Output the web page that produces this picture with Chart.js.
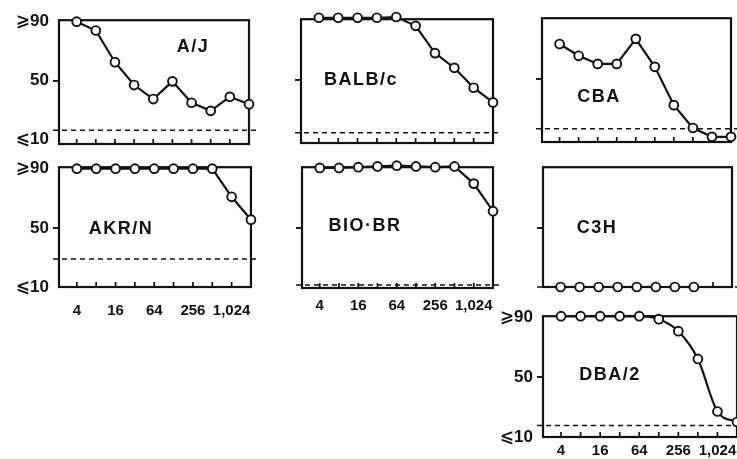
<!DOCTYPE html>
<html>
<head>
<meta charset="utf-8">
<script src="https://cdn.jsdelivr.net/npm/chart.js@4.4.1/dist/chart.umd.min.js"></script>
<style>
  html, body { margin: 0; padding: 0; background: #fff; width: 737px; height: 459px; overflow: hidden; }
  canvas { position: absolute; }
</style>
</head>
<body>
<script>
// dilutions (reciprocal), one point per twofold step
const dilutions = [4, 8, 16, 32, 64, 128, 256, 512, 1024, 2048];
const tickDilutions = [4, 8, 16, 32, 64, 128, 256, 512, 1024];
const xTickValues = [4, 16, 64, 256, 1024];
const xTickLabels = ['4', '16', '64', '256', '1,024'];
const yTickValues = [10, 50, 90];
const yTickLabels = ['⩽10', '50', '⩾90'];

const strainNames = ['A/J', 'BALB/c', 'CBA', 'AKR/N', 'BIO·BR', 'C3H', 'DBA/2'];

// percent values
const ajValues = [90, 84, 62.5, 47, 37.5, 49.5, 35, 29.5, 39, 34];
const balbcValues = [92, 92, 92, 92, 92.5, 86.5, 68, 58, 44.5, 34.5];
const cbaValues = [73.5, 65.5, 60, 60, 77, 58, 32, 16.5, 10.5, 10.5];
const akrnValues = [90, 90, 90, 90, 90, 90, 90, 90, 71, 55.5];
const bioBrValues = [90.5, 90.5, 91, 91.5, 92, 91.5, 91, 91.5, 80, 61.5];
const c3hValues = [10, 10, 10, 10, 10, 10, 10, 10];
const dba2Values = [90.5, 90.5, 90.5, 90.5, 90.5, 88.5, 80.5, 62, 27, 20];
const seriesValues = [ajValues, balbcValues, cbaValues, akrnValues, bioBrValues, c3hValues, dba2Values];

// dashed reference level per panel
const cutoffs = [16.3, 13.9, 16, 29, 12, 10, 17.7];

// layout: frame box on the page [left, top, right, bottom], y range, name offset
const layout = [
    { frame: [59, 18, 249, 144], yRange: [7, 91], nameAt: [134, 27], yLabels: true, xLabels: false, xPad: 14 },
    { frame: [301, 17, 493, 143], yRange: [7, 91], nameAt: [60, 61], yLabels: false, xLabels: false, xPad: 14 },
    { frame: [542, 16, 731, 142], yRange: [7, 91], nameAt: [57, 79], yLabels: false, xLabels: false, xPad: 14 },
    { frame: [59, 165, 251, 287], yRange: [10, 91], nameAt: [62, 62], yLabels: true, xLabels: true, xPad: 15 },
    { frame: [302, 165, 493, 288], yRange: [10, 91], nameAt: [63, 59], yLabels: false, xLabels: true, xPad: 9 },
    { frame: [543, 165, 732, 287], yRange: [10, 91], nameAt: [54, 61], yLabels: false, xLabels: false, xPad: 14 },
    { frame: [543, 314, 737, 437], yRange: [10, 90.5], nameAt: [67, 59], yLabels: true, xLabels: true, xPad: 5, smooth: true },
];

const ink = '#111';
const AXIS_W = 60;
const AXIS_H = 34;
const PAD_T = 12;
const PAD_R = 16;
const X_MIN = 2.11;

const panelDecor = {
    id: 'panelDecor',
    beforeDatasetsDraw(chart, args, opts) {
        const { ctx, chartArea: a, scales: { x, y } } = chart;
        ctx.save();
        ctx.strokeStyle = ink;
        ctx.lineWidth = 2.2;
        ctx.strokeRect(a.left, a.top, a.right - a.left, a.bottom - a.top);

        // inward tick marks along the bottom
        ctx.lineWidth = 1.7;
        ctx.beginPath();
        tickDilutions.forEach(v => {
            const px = x.getPixelForValue(v);
            ctx.moveTo(px, a.bottom);
            ctx.lineTo(px, a.bottom - 5);
        });
        ctx.stroke();

        // dashed level
        const cy = y.getPixelForValue(opts.cutoff);
        ctx.lineWidth = 1.5;
        ctx.setLineDash([5, 4]);
        ctx.beginPath();
        ctx.moveTo(a.left - 6, cy);
        ctx.lineTo(a.right + 7, cy);
        ctx.stroke();
        ctx.setLineDash([]);

        // strain name
        ctx.fillStyle = ink;
        ctx.font = 'bold 18px "Liberation Sans", Arial, sans-serif';
        ctx.letterSpacing = '1.5px';
        ctx.textAlign = 'center';
        ctx.textBaseline = 'middle';
        ctx.fillText(opts.name, a.left + opts.nameAt[0], a.top + opts.nameAt[1]);
        ctx.restore();
    },
};

function makePanel(index) {
    const p = layout[index];
    const values = seriesValues[index];
    const [l, t, r, b] = p.frame;
    const canvas = document.createElement('canvas');
    canvas.width = AXIS_W + (r - l) + PAD_R;
    canvas.height = PAD_T + (b - t) + AXIS_H;
    canvas.style.left = (l - AXIS_W) + 'px';
    canvas.style.top = (t - PAD_T) + 'px';
    document.body.appendChild(canvas);

    new Chart(canvas, {
        type: 'line',
        data: {
            datasets: [{
                data: values.map((v, i) => ({ x: dilutions[i], y: v })),
                borderColor: ink,
                borderWidth: 2.2,
                pointRadius: 4.4,
                pointBorderWidth: 1.9,
                pointBackgroundColor: '#fff',
                pointBorderColor: ink,
                tension: 0,
                cubicInterpolationMode: p.smooth ? 'monotone' : 'default',
                clip: false,
            }],
        },
        options: {
            responsive: false,
            animation: false,
            events: [],
            layout: { padding: { top: PAD_T, right: PAD_R, left: 0, bottom: 0 } },
            plugins: {
                legend: { display: false },
                tooltip: { enabled: false },
                panelDecor: { cutoff: cutoffs[index], name: strainNames[index], nameAt: p.nameAt },
            },
            scales: {
                x: {
                    type: 'logarithmic',
                    min: X_MIN,
                    max: 2048,
                    border: { display: false },
                    grid: { display: false, drawTicks: false },
                    afterBuildTicks: s => { s.ticks = tickDilutions.map(v => ({ value: v })); },
                    afterFit: s => { s.height = AXIS_H; },
                    ticks: {
                        display: p.xLabels,
                        autoSkip: false,
                        maxRotation: 0,
                        padding: p.xPad,
                        color: ink,
                        font: { family: '"Liberation Sans", Arial, sans-serif', size: 15, weight: 'bold' },
                        callback: v => {
                            const k = xTickValues.indexOf(v);
                            return k >= 0 ? xTickLabels[k] : '';
                        },
                    },
                },
                y: {
                    min: p.yRange[0],
                    max: p.yRange[1],
                    border: { display: false },
                    grid: {
                        drawOnChartArea: false,
                        tickLength: 6,
                        lineWidth: 1.9,
                        color: c => (c.tick && c.tick.value === 50 ? ink : 'transparent'),
                    },
                    afterBuildTicks: s => { s.ticks = yTickValues.map(v => ({ value: v })); },
                    afterFit: s => { s.width = AXIS_W; },
                    ticks: {
                        padding: 4,
                        color: p.yLabels ? ink : 'transparent',
                        font: { family: '"Liberation Sans", "DejaVu Sans", sans-serif', size: 17, weight: 'bold' },
                        callback: v => yTickLabels[yTickValues.indexOf(v)],
                    },
                },
            },
        },
        plugins: [panelDecor],
    });
}

strainNames.forEach((name, i) => makePanel(i));
</script>
</body>
</html>
